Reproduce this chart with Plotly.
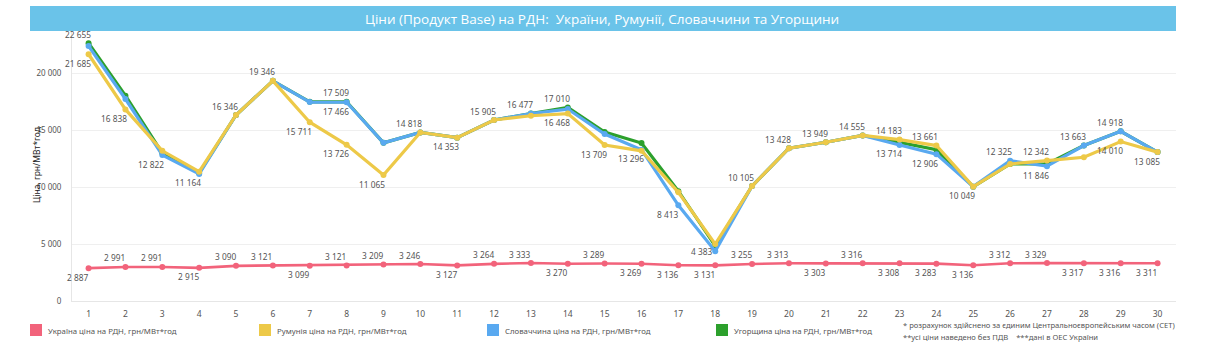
import plotly.graph_objects as go

# Day of month
days = list(range(1, 31))

# Day-ahead market prices, UAH/MWh
ukraine = [2887, 2991, 2991, 2915, 3090, 3121, 3099, 3121, 3209, 3246,
           3127, 3264, 3333, 3270, 3289, 3269, 3136, 3131, 3255, 3313,
           3303, 3316, 3308, 3283, 3136, 3312, 3329, 3317, 3316, 3311]
romania = [21685, 16838, 13200, 11360, 16346, 19346, 15711, 13726, 11065, 14818,
           14353, 15905, 16280, 16468, 13709, 13200, 9550, 5000, 10105, 13428,
           13949, 14555, 14183, 13661, 10049, 12040, 12342, 12630, 14010, 13085]
slovakia = [22400, 17750, 12822, 11164, 16346, 19346, 17480, 17466, 13900, 14818,
            14353, 15905, 16477, 16870, 14675, 13296, 8413, 4383, 10105, 13428,
            13949, 14555, 13714, 12906, 10049, 12325, 11846, 13663, 14918, 13085]
hungary = [22655, 18040, 13000, 11250, 16346, 19346, 17500, 17509, 13900, 14818,
           14353, 15905, 16477, 17010, 14850, 13884, 9650, 4850, 10105, 13428,
           13949, 14555, 13945, 13295, 10049, 12050, 12040, 13663, 14918, 13085]

# Value labels: day -> placement ("t" above, "b" below, "l" beside on the left)
ukraine_labels = dict(zip(days, "bttbttbtttbttbtbbbttbtbbbttbbb"))
romania_labels = {1: "b", 2: "b", 7: "b", 8: "b", 9: "b", 14: "b", 15: "b",
                  23: "t", 24: "t", 27: "t", 29: "b", 30: "b"}
slovakia_labels = {3: "b", 4: "b", 5: "t", 6: "t", 8: "b", 10: "t", 11: "b", 12: "t",
                   13: "t", 16: "b", 17: "b", 18: "l", 19: "t", 20: "t", 21: "t",
                   22: "t", 23: "b", 24: "b", 25: "b", 26: "t", 27: "b", 28: "t", 29: "t"}
hungary_labels = {1: "t", 8: "t", 14: "t"}

C_UA = "#F2637B"
C_RO = "#EDC948"
C_SK = "#59A9F0"
C_HU = "#2CA02C"
LABEL_COLOR = "#555555"
FONT = "Noto Sans"


def fmt(v):
    return f"{v:,}".replace(",", " ")


fig = go.Figure()


def add_series(name, values, color, labels, width=3.2, msize=6):
    fig.add_trace(go.Scatter(
        x=days, y=values, name=name, mode="lines+markers",
        line=dict(color=color, width=width),
        marker=dict(color=color, size=msize),
        cliponaxis=False, showlegend=False,
        hovertemplate="%{y}<extra>" + name + "</extra>",
    ))
    for d, v in zip(days, values):
        place = labels.get(d)
        if place is None:
            continue
        if place == "t":
            dx, dy = -11, 9
        elif place == "b":
            dx, dy = -11, -9
        else:
            dx, dy = -14, 0
        fig.add_annotation(x=d, y=v, text=fmt(v), showarrow=False,
                           xanchor="center", yanchor="middle",
                           xshift=dx, yshift=dy,
                           font=dict(size=8.3, color=LABEL_COLOR, family=FONT))


add_series("Угорщина", hungary, C_HU, hungary_labels)
add_series("Словаччина", slovakia, C_SK, slovakia_labels)
add_series("Румунія", romania, C_RO, romania_labels)
add_series("Україна", ukraine, C_UA, ukraine_labels, width=2.6)

L, R, T, B = 72, 38, 32, 44
W, H = 1214, 345
pw, ph = W - L - R, H - T - B


def px_x(x):
    return (x - L) / pw


def px_y(y):
    return (H - B - y) / ph


# Title band
fig.add_shape(type="rect", xref="paper", yref="paper",
              x0=px_x(30), x1=px_x(1176), y0=px_y(31), y1=px_y(6),
              fillcolor="#6AC3E9", line=dict(width=0), layer="below")
fig.add_annotation(xref="paper", yref="paper", x=px_x(602), y=px_y(18.5),
                   text="Ціни (Продукт Base) на РДН:  України, Румунії, Словаччини та Угорщини",
                   showarrow=False, xanchor="center", yanchor="middle",
                   font=dict(size=13.5, color="white", family="Open Sans"))

# Y axis title
fig.add_annotation(xref="paper", yref="paper", x=px_x(36), y=px_y(165),
                   text="Ціна, грн/МВт*год", textangle=-90, showarrow=False,
                   xanchor="center", yanchor="middle",
                   font=dict(size=8.5, color="#222222", family=FONT))

# Legend swatches and captions
legend_items = [
    ("Україна ціна на РДН, грн/МВт*год", C_UA, 30),
    ("Румунія ціна на РДН, грн/МВт*год", C_RO, 259),
    ("Словаччина ціна на РДН, грн/МВт*год", C_SK, 487),
    ("Угорщина ціна на РДН, грн/МВт*год", C_HU, 716),
]
for label, color, x0 in legend_items:
    fig.add_shape(type="rect", xref="paper", yref="paper",
                  x0=px_x(x0), x1=px_x(x0 + 12), y0=px_y(336), y1=px_y(324),
                  fillcolor=color, line=dict(width=0))
    fig.add_annotation(xref="paper", yref="paper", x=px_x(x0 + 16), y=px_y(330.5),
                       text=label, showarrow=False, xanchor="left", yanchor="middle",
                       font=dict(size=7.8, color=LABEL_COLOR, family=FONT))

fig.add_annotation(xref="paper", yref="paper", x=px_x(901), y=px_y(325),
                   text="* розрахунок здійснено за єдиним Центральноєвропейським часом (CET)",
                   showarrow=False, xanchor="left", yanchor="middle",
                   font=dict(size=7.6, color=LABEL_COLOR, family=FONT))
fig.add_annotation(xref="paper", yref="paper", x=px_x(901), y=px_y(337),
                   text="**усі ціни наведено без ПДВ    ***дані в ОЕС України",
                   showarrow=False, xanchor="left", yanchor="middle",
                   font=dict(size=7.6, color=LABEL_COLOR, family=FONT))

fig.update_layout(
    width=W, height=H,
    margin=dict(l=L, r=R, t=T, b=B, pad=0),
    paper_bgcolor="white", plot_bgcolor="white",
    separators=". ",
    font=dict(family=FONT, color=LABEL_COLOR),
    xaxis=dict(range=[0.55, 30.5], tickmode="array", tickvals=days,
               showgrid=False, zeroline=False, showline=True,
               linecolor="#e6e6e6", linewidth=1, ticks="", ticklabelstandoff=5,
               tickfont=dict(size=8.5, color=LABEL_COLOR, family=FONT)),
    yaxis=dict(range=[0, 23640], tickvals=[0, 5000, 10000, 15000, 20000],
               tickformat=",d", showgrid=True, gridcolor="#efefef", gridwidth=1,
               zeroline=False, showline=True, linecolor="#e6e6e6", linewidth=1,
               ticks="", ticklabelstandoff=8,
               tickfont=dict(size=8, color=LABEL_COLOR, family=FONT)),
)

fig.write_html("out.html")
